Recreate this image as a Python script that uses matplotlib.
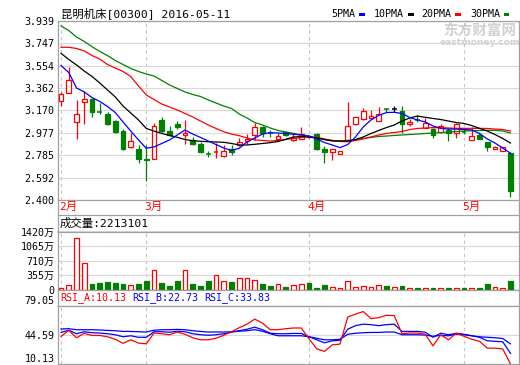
import matplotlib
matplotlib.use('Agg')
import matplotlib.pyplot as plt
from matplotlib.patches import Rectangle
import matplotlib.transforms as mtransforms

W, H = 520, 365
fig = plt.figure(figsize=(W / 100, H / 100), dpi=100)
fig.patch.set_facecolor('white')

MONO = ['DejaVu Sans Mono', 'Noto Sans CJK SC']

# ---------------- data ----------------
title = '昆明机床[00300] 2016-05-11'
month_labels = ['2月', '3月', '4月', '5月']
month_pos = [0, 11, 32, 52]

opens = [3.249, 3.317, 3.068, 3.240, 3.266, 3.162, 3.139, 3.079, 2.996, 2.858,
         2.838, 2.750, 2.750, 3.085, 2.996, 3.053, 2.959, 2.913, 2.881, 2.800,
         2.810, 2.781, 2.838, 2.873, 2.907, 2.956, 3.028, 2.975, 2.922, 2.982,
         2.913, 2.924, 2.950, 2.967, 2.838, 2.810, 2.793, 2.916, 3.051, 3.096,
         3.102, 3.079, 3.185, 3.182, 3.168, 3.051, 3.088, 3.016, 3.010, 2.982,
         3.002, 2.973, 2.990, 2.913, 2.959, 2.896, 2.838, 2.821, 2.801]
highs = [3.330, 3.541, 3.260, 3.337, 3.280, 3.231, 3.159, 3.088, 3.008, 2.973,
         2.870, 2.873, 3.065, 3.111, 3.036, 3.082, 3.088, 2.942, 2.901, 2.821,
         2.887, 2.873, 2.869, 2.933, 2.967, 3.059, 3.039, 3.000, 2.980, 2.987,
         2.979, 3.025, 2.960, 2.973, 2.867, 2.838, 2.821, 3.240, 3.115, 3.188,
         3.174, 3.200, 3.194, 3.208, 3.208, 3.096, 3.131, 3.102, 3.022, 3.051,
         3.022, 3.065, 3.010, 3.030, 2.982, 2.901, 2.860, 2.856, 2.810]
lows = [3.208, 3.317, 2.927, 3.051, 3.111, 3.137, 3.045, 2.979, 2.832, 2.850,
        2.721, 2.566, 2.750, 2.979, 2.950, 3.013, 2.879, 2.873, 2.801, 2.772,
        2.759, 2.772, 2.787, 2.860, 2.881, 2.916, 2.944, 2.944, 2.920, 2.953,
        2.910, 2.922, 2.930, 2.830, 2.716, 2.744, 2.793, 2.916, 3.045, 3.090,
        3.100, 3.075, 3.154, 3.154, 2.973, 3.039, 3.068, 3.016, 2.930, 2.976,
        2.910, 2.930, 2.970, 2.913, 2.922, 2.821, 2.835, 2.821, 2.423]
closes = [3.311, 3.432, 3.139, 3.266, 3.159, 3.157, 3.056, 2.987, 2.841, 2.905,
          2.750, 2.741, 3.034, 2.996, 2.956, 3.025, 2.978, 2.879, 2.810, 2.797,
          2.812, 2.821, 2.813, 2.899, 2.925, 3.025, 2.976, 2.970, 2.950, 2.959,
          2.936, 2.965, 2.940, 2.838, 2.810, 2.838, 2.821, 3.039, 3.111, 3.165,
          3.120, 3.137, 3.180, 3.182, 3.051, 3.073, 3.085, 3.059, 2.959, 3.034,
          2.973, 3.051, 2.985, 2.950, 2.927, 2.856, 2.856, 2.856, 2.480]

ma5 = [3.556, 3.496, 3.363, 3.329, 3.281, 3.247, 3.204, 3.152, 3.071, 2.993,
       2.916, 2.845, 2.856, 2.886, 2.916, 2.959, 3.002, 2.967, 2.938, 2.907,
       2.877, 2.847, 2.826, 2.845, 2.899, 2.933, 2.967, 2.979, 2.976, 2.972,
       2.965, 2.959, 2.950, 2.925, 2.894, 2.873, 2.850, 2.877, 2.942, 3.028,
       3.088, 3.127, 3.152, 3.154, 3.144, 3.109, 3.088, 3.071, 3.036, 3.016,
       3.010, 3.010, 3.006, 3.002, 2.972, 2.925, 2.890, 2.847, 2.802]
ma10 = [3.661, 3.608, 3.561, 3.509, 3.462, 3.406, 3.346, 3.286, 3.208, 3.148,
        3.088, 3.015, 2.993, 2.972, 2.955, 2.939, 2.920, 2.910, 2.905, 2.901,
        2.899, 2.896, 2.886, 2.873, 2.873, 2.879, 2.886, 2.893, 2.903, 2.922,
        2.942, 2.946, 2.942, 2.933, 2.920, 2.907, 2.907, 2.907, 2.920, 2.942,
        2.972, 2.998, 3.023, 3.045, 3.079, 3.105, 3.122, 3.111, 3.101, 3.092,
        3.079, 3.066, 3.058, 3.040, 3.016, 2.993, 2.963, 2.929, 2.890]
ma20 = [3.713, 3.713, 3.703, 3.681, 3.642, 3.612, 3.565, 3.535, 3.505, 3.462,
        3.380, 3.303, 3.264, 3.225, 3.200, 3.174, 3.144, 3.114, 3.079, 3.045,
        3.015, 2.987, 2.967, 2.953, 2.933, 2.916, 2.912, 2.907, 2.912, 2.920,
        2.929, 2.938, 2.945, 2.938, 2.925, 2.912, 2.903, 2.901, 2.912, 2.925,
        2.942, 2.959, 2.972, 2.980, 2.989, 3.006, 3.015, 3.019, 3.022, 3.022,
        3.019, 3.016, 3.016, 3.016, 3.016, 3.015, 3.010, 3.006, 2.993]
ma30 = [3.896, 3.857, 3.801, 3.763, 3.718, 3.677, 3.642, 3.599, 3.565, 3.531,
        3.505, 3.483, 3.466, 3.428, 3.389, 3.359, 3.329, 3.307, 3.290, 3.260,
        3.234, 3.208, 3.187, 3.139, 3.105, 3.066, 3.045, 3.019, 2.998, 2.985,
        2.973, 2.959, 2.946, 2.933, 2.920, 2.912, 2.907, 2.912, 2.918, 2.929,
        2.938, 2.946, 2.950, 2.955, 2.959, 2.963, 2.967, 2.972, 2.976, 2.979,
        2.983, 2.989, 2.993, 2.995, 2.998, 2.999, 2.999, 2.993, 2.976]

volume = [50, 114, 1255, 648, 153, 170, 194, 170, 146, 114,
          146, 218, 478, 170, 97, 218, 478, 153, 97, 218,
          357, 218, 194, 284, 284, 243, 138, 90, 138, 73,
          114, 138, 170, 49, 121, 66, 41, 218, 66, 90,
          66, 114, 90, 66, 90, 41, 41, 41, 41, 41,
          41, 41, 41, 41, 41, 138, 66, 41, 221]
volume_last = 2213101

rsi_a = [42.57, 49.70, 41.03, 46.37, 43.76, 43.76, 42.21, 39.24, 34.49, 38.65,
         34.73, 33.90, 46.61, 45.78, 44.59, 47.80, 45.18, 41.03, 38.65, 38.65,
         40.43, 44.00, 48.16, 52.91, 57.07, 63.01, 58.26, 50.53, 50.53, 51.72,
         52.55, 52.55, 39.84, 27.95, 24.98, 32.71, 33.54, 65.39, 68.95, 71.92,
         63.60, 64.79, 67.53, 67.17, 45.78, 46.61, 46.61, 45.18, 31.52, 44.59,
         38.65, 46.37, 42.81, 39.24, 36.87, 28.79, 28.79, 27.95, 10.13]
rsi_b = [47.32, 49.94, 45.78, 48.16, 46.97, 46.61, 45.78, 44.59, 42.21, 43.40,
         41.62, 41.62, 48.16, 48.16, 47.56, 48.75, 48.16, 45.78, 44.59, 44.00,
         44.59, 45.78, 47.56, 49.34, 51.13, 53.50, 50.53, 46.37, 45.78, 45.78,
         46.14, 46.14, 42.21, 38.65, 35.08, 37.46, 38.06, 51.13, 55.29, 57.07,
         56.47, 55.29, 56.47, 57.07, 48.51, 48.51, 48.51, 47.56, 41.62, 46.37,
         44.59, 46.37, 45.18, 43.40, 41.62, 37.46, 36.87, 36.27, 22.73]
rsi_c = [51.36, 51.72, 50.53, 50.53, 50.53, 50.18, 49.70, 49.34, 48.51, 48.51,
         48.16, 47.80, 49.94, 50.53, 50.53, 50.89, 50.53, 49.34, 48.51, 47.80,
         47.80, 47.80, 48.16, 48.75, 49.34, 50.53, 48.75, 45.78, 43.40, 43.40,
         43.40, 43.40, 42.21, 40.43, 38.65, 38.65, 39.24, 45.18, 46.37, 46.97,
         47.32, 47.32, 47.80, 47.80, 44.59, 44.59, 44.59, 44.23, 42.81, 43.76,
         43.40, 45.18, 44.59, 43.40, 42.21, 41.62, 41.03, 40.19, 33.83]

price_ticks = [3.939, 3.747, 3.554, 3.362, 3.170, 2.977, 2.785, 2.592, 2.400]
vol_ticks = [0, 355, 710, 1065, 1420]
vol_tick_labels = ['0', '355万', '710万', '1065万', '1420万']
rsi_ticks = [10.13, 44.59, 79.05]

# ---------------- style ----------------
RED = '#ff0000'
GREEN = '#008000'
BLUE = '#0000ff'
FRAME = '#a0a0a0'
GRID = '#d8d8d8'
DASH = '#c4c4c4'
WM = '#d0d0d0'
n = len(closes)
XLIM = (-0.39, 59.1)
BW = 0.62


def ax_px(l, t, r, b):
    return fig.add_axes([l / W, 1 - b / H, (r - l) / W, (b - t) / H])


def style(ax):
    ax.set_facecolor('white')
    for s in ax.spines.values():
        s.set_color(FRAME)
        s.set_linewidth(0.9)
    ax.tick_params(length=0, pad=2.5, labelsize=7.2)
    ax.set_xticks([])
    ax.set_xlim(*XLIM)


def vdash(ax):
    for p in month_pos:
        ax.axvline(p, color=DASH, lw=0.8, ls=(0, (3, 3)), zorder=0.5)


# ---------------- main price panel ----------------
ax = ax_px(58, 21, 519, 200)
style(ax)
ax.set_ylim(2.400, 3.939)
ax.set_yticks(price_ticks)
ax.set_yticklabels([f'{v:.3f}' for v in price_ticks], fontfamily=MONO, fontsize=7.2)
ax.grid(axis='y', color=GRID, lw=0.8, zorder=0)
vdash(ax)

for i in range(n):
    o, h, l, c = opens[i], highs[i], lows[i], closes[i]
    if c > o:
        col = RED
    elif c < o:
        col = GREEN
    else:
        col = 'black'
    ax.vlines(i, l, h, color=col, lw=0.9, zorder=2)
    if abs(c - o) < 0.008:
        ax.hlines((o + c) / 2, i - BW / 2, i + BW / 2, color=col, lw=1.1, zorder=3)
    else:
        face = 'white' if c > o else GREEN
        ax.bar(i, abs(c - o), bottom=min(o, c), width=BW, facecolor=face,
               edgecolor=col, lw=0.9, zorder=3)

x = list(range(n))
ax.plot(x, ma30, color=GREEN, lw=0.9, zorder=4)
ax.plot(x, ma20, color=RED, lw=0.9, zorder=4)
ax.plot(x, ma10, color='black', lw=0.9, zorder=4)
ax.plot(x, ma5, color=BLUE, lw=0.9, zorder=4)

# watermark (drawn inside the main axes, behind the marks)
ax.text(480 / W, 1 - 31 / H, '东方财富网', transform=fig.transFigure,
        ha='center', va='center', fontsize=10.5, fontweight='bold', color=WM,
        fontfamily=['Noto Sans CJK SC'], zorder=0.2, clip_on=False)
ax.text(480 / W, 1 - 42.5 / H, 'eastmoney.com', transform=fig.transFigure,
        ha='center', va='center', fontsize=6.6, fontweight='bold', color=WM,
        fontfamily=['DejaVu Sans'], zorder=0.2, clip_on=False)

# month labels
btr = mtransforms.blended_transform_factory(ax.transData, ax.transAxes)
for p, lab in zip(month_pos, month_labels):
    ax.text(p - 0.25, -0.04, lab, transform=btr, ha='left', va='center',
            color=RED, fontsize=8.2, fontfamily=MONO)

# side lines between panels
for xx in (58, 519):
    fig.add_artist(plt.Line2D([xx / W, xx / W], [1 - 200 / H, 1 - 215 / H],
                              color=FRAME, lw=0.9))

# title
fig.text(61 / W, 1 - 13.5 / H, title, ha='left', va='center', fontsize=8.2,
         fontfamily=MONO, color='black')

# legend
leg = [('5PMA', BLUE, 331, 359), ('10PMA', 'black', 374, 408),
       ('20PMA', RED, 421.5, 455), ('30PMA', GREEN, 470, 503.5)]
for lab, col, tx, rx in leg:
    fig.text(tx / W, 1 - 14 / H, lab, ha='left', va='center', fontsize=7.2,
             fontfamily=MONO, color='black')
    fig.add_artist(Rectangle((rx / W, 1 - 15.5 / H), 5.5 / W, 3 / H,
                             transform=fig.transFigure, facecolor=col,
                             edgecolor='none'))

# ---------------- volume panel ----------------
axvt = ax_px(58, 215, 519, 231.5)
style(axvt)
axvt.set_yticks([])
axvt.text(2 / 461, 0.5, f'成交量:{volume_last}', transform=axvt.transAxes,
          ha='left', va='center', fontsize=8.2, fontfamily=MONO)

axv = ax_px(58, 231.5, 519, 290)
style(axv)
axv.set_ylim(0, 1420)
axv.set_yticks(vol_ticks)
axv.set_yticklabels(vol_tick_labels, fontfamily=MONO, fontsize=7.2)
axv.grid(axis='y', color=GRID, lw=0.8, zorder=0)
vdash(axv)
for i in range(n):
    up = closes[i] >= opens[i]
    axv.bar(i, volume[i], width=BW, facecolor='white' if up else GREEN,
            edgecolor=RED if up else GREEN, lw=0.9, zorder=3)

# ---------------- RSI panel ----------------
axrt = ax_px(58, 290, 519, 305.5)
style(axrt)
axrt.set_yticks([])
rsi_titles = [(f'RSI_A:{rsi_a[-1]:.2f}', RED, 60),
              (f'RSI_B:{rsi_b[-1]:.2f}', BLUE, 132),
              (f'RSI_C:{rsi_c[-1]:.2f}', BLUE, 204)]
for txt, col, tx in rsi_titles:
    fig.text(tx / W, 1 - 298 / H, txt, ha='left', va='center', fontsize=7.2,
             fontfamily=MONO, color=col)

axr = ax_px(58, 305.5, 519, 364)
style(axr)
axr.set_ylim(10.13, 79.05)
axr.set_yticks(rsi_ticks)
axr.set_yticklabels([f'{v:.2f}' for v in rsi_ticks], fontfamily=MONO, fontsize=7.2)
labs = axr.get_yticklabels()
labs[0].set_va('bottom')
labs[2].set_va('bottom')
axr.grid(axis='y', color=GRID, lw=0.8, zorder=0)
vdash(axr)
axr.plot(x, rsi_c, color=BLUE, lw=0.9, zorder=3)
axr.plot(x, rsi_b, color=BLUE, lw=0.9, zorder=3)
axr.plot(x, rsi_a, color=RED, lw=0.9, zorder=4)

fig.savefig('out.png', dpi=100, facecolor='white')
